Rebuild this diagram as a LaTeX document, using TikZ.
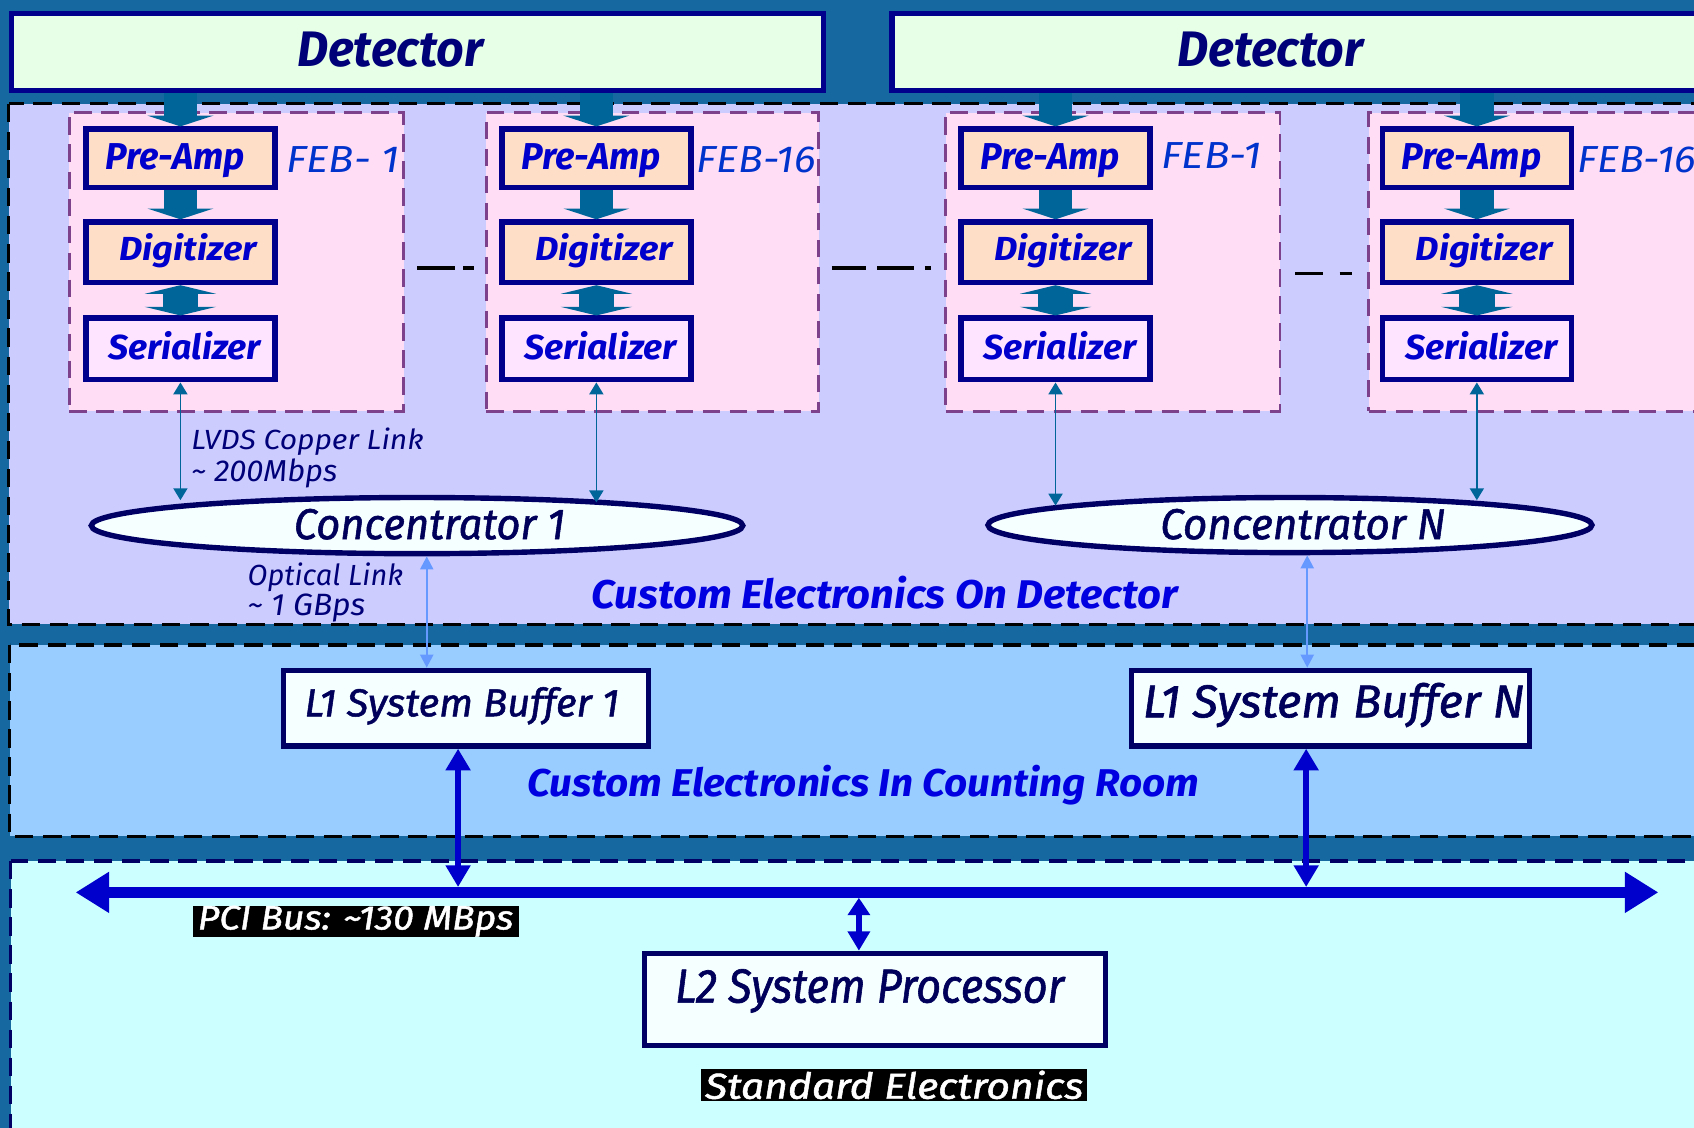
\documentclass[tikz,border=0pt]{standalone}
\usepackage{fontspec}
\setmainfont{Fira Sans}
\newfontfamily\fmed{Fira Sans}[FakeBold=1.3]
\usepackage{graphicx}
\usetikzlibrary{arrows.meta,shapes.geometric,calc}
\definecolor{bgc}{RGB}{21,104,160}
\definecolor{detf}{RGB}{230,255,230}
\definecolor{navyb}{RGB}{0,0,140}
\definecolor{navyd}{RGB}{0,0,100}
\definecolor{secA}{RGB}{204,204,255}
\definecolor{secB}{RGB}{153,204,255}
\definecolor{secC}{RGB}{204,255,255}
\definecolor{febf}{RGB}{255,221,245}
\definecolor{febd}{RGB}{125,65,140}
\definecolor{peach}{RGB}{255,222,200}
\definecolor{serf}{RGB}{255,228,255}
\definecolor{tealc}{RGB}{0,102,153}
\definecolor{ellf}{RGB}{245,255,255}
\definecolor{optc}{RGB}{102,153,255}
\definecolor{busc}{RGB}{0,0,204}
\definecolor{txtb}{RGB}{0,0,204}
\definecolor{txtd}{RGB}{0,0,120}
\definecolor{txtk}{RGB}{0,0,90}
\definecolor{febt}{RGB}{0,51,204}
\definecolor{secT}{RGB}{0,0,224}
\newcommand\tb[3]{\resizebox{#1pt}{#2pt}{#3}}
\begin{document}
\begin{tikzpicture}[x=1pt,y=-1pt,
  box/.style={rectangle, draw=navyb, line width=5pt, inner sep=0pt},
  dbox/.style={rectangle, draw=navyd, line width=5pt, inner sep=0pt, fill=ellf},
  ell/.style={ellipse, draw=navyd, line width=5pt, inner sep=0pt, fill=ellf},
  febbox/.style={rectangle, draw=febd, fill=febf, line width=2.5pt, dash pattern=on 16pt off 9pt, inner sep=0pt},
  secdash/.style={line width=3pt, dash pattern=on 17pt off 9pt},
  lbl/.style={inner sep=0pt, anchor=base},
  lblw/.style={inner sep=0pt, anchor=base west},
  blk/.style={tealc, line width=31pt, -{Triangle[length=10pt,width=61pt]}},
  blkdbl/.style={tealc, line width=33pt, {Triangle[length=8pt,width=66pt]}-{Triangle[length=8pt,width=66pt]}},
  thinar/.style={tealc, line width=1.5pt, {Triangle[length=11pt,width=13pt]}-{Triangle[length=11pt,width=13pt]}},
  optar/.style={optc, line width=2pt, {Triangle[length=12pt,width=12pt]}-{Triangle[length=12pt,width=12pt]}},
  thickar/.style={busc, line width=5pt, {Triangle[length=20pt,width=22pt]}-{Triangle[length=20pt,width=22pt]}},
  l2ar/.style={busc, line width=5pt, {Triangle[length=16pt,width=20pt]}-{Triangle[length=18pt,width=20pt]}},
  busar/.style={busc, line width=10pt, {Triangle[length=31pt,width=36pt]}-{Triangle[length=31pt,width=36pt]}},
  sepdash/.style={black, line width=3pt}
]
\useasboundingbox (0,0) rectangle (1568,1044);
\clip (0,0) rectangle (1568,1044);
\fill[bgc] (0,0) rectangle (1568,1044);
% sections
\draw[secdash, draw=black, fill=secA] (8,96) rectangle (1600,578);
\draw[secdash, draw=black, fill=secB] (9,597) rectangle (1600,774);
\draw[secdash, draw=navyd, fill=secC] (10,797) rectangle (1600,1100);
% detectors
\node[box, fill=detf, minimum width=752pt, minimum height=71pt] (det1) at (386.5,48) {};
\node[box, fill=detf, minimum width=780pt, minimum height=71pt] (det2) at (1215.5,48) {};
\node[lbl, text=txtd] (det1t) at (361,62) {\tb{172}{32}{\bfseries\itshape Detector}};
\node[lbl, text=txtd] (det2t) at (1176,62) {\tb{172}{32}{\bfseries\itshape Detector}};
% FEB columns
\foreach \i/\cx/\fx/\fw in {1/167/219/309.5, 2/552/604/307.5, 3/977/1030/309.5, 4/1367/1436/338}{
  \node[febbox, minimum width=\fw pt, minimum height=276.5pt] (feb\i) at (\fx,242.5) {};
  \node[box, fill=peach, minimum width=175pt, minimum height=54pt] (pa\i) at (\cx,146.5) {};
  \node[box, fill=peach, minimum width=175pt, minimum height=56pt] (dg\i) at (\cx,233.5) {};
  \node[box, fill=serf, minimum width=175pt, minimum height=57pt] (se\i) at (\cx,323) {};
  \node[lbl, text=txtb] (pat\i) at (\cx-5,157) {\tb{129}{24}{\bfseries\itshape Pre-Amp}};
  \node[lbl, text=txtb] (dgt\i) at (\cx+7,241) {\tb{127}{25}{\bfseries\itshape Digitizer}};
  \node[lbl, text=txtb] (set\i) at (\cx+4,333) {\tb{141}{26}{\bfseries\itshape Serializer}};
  \draw[blk] (pa\i.south) -- (dg\i.north);
  \draw[blkdbl] (dg\i.south) -- (se\i.north);
}
\draw[blk] (pa1.north |- det1.south) -- (pa1.north);
\draw[blk] (pa2.north |- det1.south) -- (pa2.north);
\draw[blk] (pa3.north |- det2.south) -- (pa3.north);
\draw[blk] (pa4.north |- det2.south) -- (pa4.north);
% FEB labels
\node[lbl, text=febt] (febl1) at (317.5,160) {\tb{105}{24}{\itshape FEB- 1}};
\node[lbl, text=febt] (febl2) at (700,160) {\tb{110}{24}{\itshape FEB-16}};
\node[lbl, text=febt] (febl3) at (1121.5,156) {\tb{93}{24}{\itshape FEB-1}};
\node[lblw, text=febt] (febl4) at (1460,160) {\tb{110}{24}{\itshape FEB-16}};
% dash separators
\coordinate (sa1) at (386,248); \coordinate (sa2) at (440,248);
\coordinate (sb1) at (770,248); \coordinate (sb2) at (862,248);
\coordinate (sc1) at (1199,253); \coordinate (sc2) at (1251,253);
\draw[sepdash, dash pattern=on 35pt off 8pt on 10pt off 100pt] (sa1) -- (sa2);
\draw[sepdash, dash pattern=on 32pt off 10pt on 34pt off 10pt on 6pt off 100pt] (sb1) -- (sb2);
\draw[sepdash, dash pattern=on 26pt off 15pt on 11pt off 100pt] (sc1) -- (sc2);
% concentrators
\node[ell, minimum width=603pt, minimum height=52pt] (conc1) at (386,486.5) {};
\node[ell, minimum width=559pt, minimum height=51pt] (conc2) at (1194,486) {};
\node[lbl, text=txtk] (conc1t) at (397.5,499) {\tb{251}{28}{\fmed\itshape Concentrator 1}};
\node[lbl, text=txtk] (conc2t) at (1206,499) {\tb{264}{28}{\fmed\itshape Concentrator N}};
% copper links
\draw[thinar, shorten >=-5pt] (se1.south) -- (se1.south |- conc1.north);
\draw[thinar, shorten >=-7pt] (se2.south) -- (se2.south |- conc1.north);
\draw[thinar, shorten >=-10pt] (se3.south) -- (se3.south |- conc2.north);
\draw[thinar, shorten >=-5pt] (se4.south) -- (se4.south |- conc2.north);
\node[lblw, text=txtd] (lvds1) at (177,416) {\tb{215}{20}{\itshape LVDS Copper Link}};
\node[lblw, text=txtd] (lvds2) at (177,446) {\tb{135}{21}{\itshape \textasciitilde{} 200Mbps}};
% section 1 label
\node[lbl, text=secT] (sec1t) at (819,563) {\tb{542}{30}{\bfseries\itshape Custom Electronics On Detector}};
% L1 buffers
\node[dbox, minimum width=338pt, minimum height=70pt] (l1a) at (431.5,655.5) {};
\node[dbox, minimum width=368pt, minimum height=70pt] (l1b) at (1231.5,655.5) {};
\node[lbl, text=txtk] (l1at) at (427.5,663) {\tb{291}{27}{\fmed\itshape L1 System Buffer 1}};
\node[lbl, text=txtk] (l1bt) at (1234.5,664) {\tb{353}{32}{\fmed\itshape L1 System Buffer N}};
% optical links
\coordinate (o1) at ([xshift=9pt]conc1.south);
\coordinate (o2) at ([xshift=16pt]conc2.south);
\draw[optar] (o1) -- (o1 |- l1a.north);
\draw[optar] (o2) -- (o2 |- l1b.north);
\node[lblw, text=txtd] (opt1) at (229,542) {\tb{144}{21}{\itshape Optical Link}};
\node[lblw, text=txtd] (opt2) at (229,570) {\tb{109}{20}{\itshape \textasciitilde{} 1 GBps}};
% section 2 label
\node[lbl, text=secT] (sec2t) at (799,737) {\tb{622}{29}{\bfseries\itshape Custom Electronics In Counting Room}};
% bus
\coordinate (busL) at (70,826);
\coordinate (busR) at (1535,826);
\draw[busar] (busL) -- (busR);
\coordinate (b1) at ([xshift=-7.5pt]l1a.south);
\coordinate (b2) at ([xshift=-22.5pt]l1b.south);
\draw[thickar, shorten >=5pt] (b1) -- (b1 |- busL);
\draw[thickar, shorten >=5pt] (b2) -- (b2 |- busL);
\node[fill=black, text=white, inner sep=0pt, minimum width=302pt, minimum height=29pt, anchor=north west] (pci) at (178,838) {\tb{292}{22}{\fmed\itshape PCI Bus: \textasciitilde130 MBps}};
% L2
\node[dbox, minimum width=427pt, minimum height=85pt] (l2) at (810,925) {};
\node[lbl, text=txtk] (l2t) at (805,928) {\tb{360}{31}{\fmed\itshape L2 System Processor}};
\coordinate (l2top) at ([xshift=-15pt]l2.north);
\draw[l2ar, shorten <=5pt] (l2top |- busL) -- (l2top);
\node[fill=black, text=white, inner sep=0pt, minimum width=357pt, minimum height=30pt, anchor=north west] (std) at (649,989) {\tb{350}{26}{\fmed\itshape Standard Electronics}};
\end{tikzpicture}
\end{document}
